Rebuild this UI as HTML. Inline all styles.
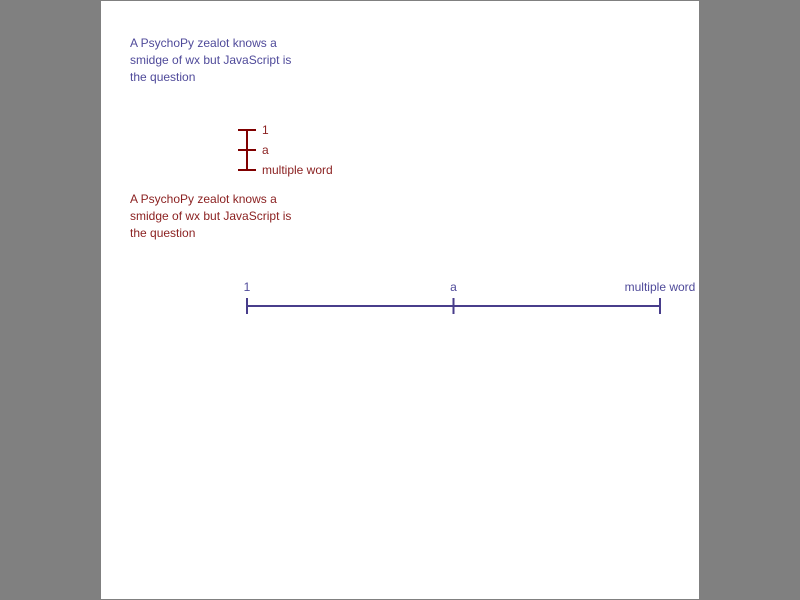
<!DOCTYPE html>
<html><head><meta charset="utf-8"><style>
body{margin:0;background:#808080;width:800px;height:600px;overflow:hidden;font-family:"Liberation Sans","DejaVu Sans",sans-serif}
#win{position:absolute;left:101px;top:1px;width:598px;height:598px;background:#fff;overflow:hidden}
.t{position:absolute;font-size:12px;line-height:17px;white-space:nowrap}
</style></head><body>
<div id="win">
<div class="t" style="left:29px;top:34px;color:#4f4a9a">A PsychoPy zealot knows a<br>smidge of wx but JavaScript is<br>the question</div>
<div class="t" style="left:29px;top:190px;color:#8a1f1f">A PsychoPy zealot knows a<br>smidge of wx but JavaScript is<br>the question</div>
<svg width="598" height="598" style="position:absolute;left:0;top:0" id="svg"></svg>
</div>
<script>
const labels=["1","a","multiple word"];
const ticks=[0,1,2];
const ns="http://www.w3.org/2000/svg";
const svg=document.getElementById('svg');
function mk(t,a){const e=document.createElementNS(ns,t);for(const k in a)e.setAttribute(k,a[k]);svg.appendChild(e);return e;}
// vertical slider (window coords: x offset 101, y offset 1)
const vy=v=>129+v*(40/(ticks.length-1));
const vx=146;
let l=mk('line',{x1:vx,y1:vy(0),x2:vx,y2:vy(ticks.length-1),stroke:'#800000','stroke-width':2});


ticks.forEach((v,i)=>{
 const tk=mk('line',{x1:vx-9,y1:vy(v),x2:vx+9,y2:vy(v),stroke:'#800000','stroke-width':2});
 
 
 const tx=mk('text',{x:vx+15,y:vy(v)+4,fill:'#8a1f1f','font-size':12,'font-family':'Liberation Sans, DejaVu Sans, sans-serif'});
 tx.textContent=labels[i];
 
 
});
// horizontal slider
const hx=v=>146+v*(413/(ticks.length-1));
const hy=305;
l=mk('line',{x1:hx(0),y1:hy,x2:hx(ticks.length-1),y2:hy,stroke:'#483d8b','stroke-width':2});


ticks.forEach((v,i)=>{
 const tk=mk('line',{x1:hx(v),y1:hy-8,x2:hx(v),y2:hy+8,stroke:'#483d8b','stroke-width':2});
 
 
 const tx=mk('text',{x:hx(v),y:hy-15,fill:'#4f4a9a','font-size':12,'text-anchor':'middle','font-family':'Liberation Sans, DejaVu Sans, sans-serif'});
 tx.textContent=labels[i];
 
 
});
</script>
</body></html>
